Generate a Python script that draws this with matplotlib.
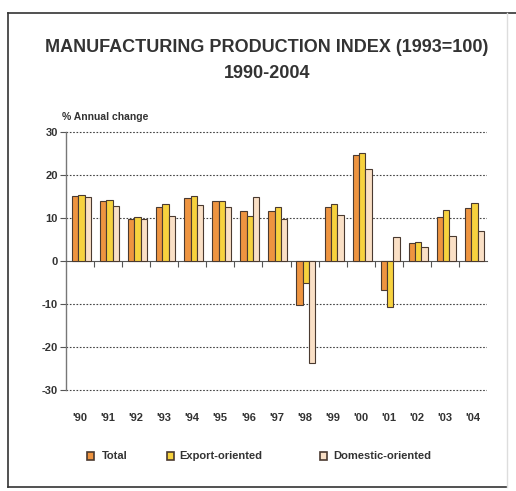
import numpy as np
import matplotlib.pyplot as plt
from matplotlib.patches import Rectangle
from matplotlib.lines import Line2D

plt.rcParams['font.family'] = ['Liberation Sans', 'DejaVu Sans']
plt.rcParams['axes.unicode_minus'] = False

# данные (чтение с картинки)
years = ["'90", "'91", "'92", "'93", "'94", "'95", "'96", "'97",
         "'98", "'99", "'00", "'01", "'02", "'03", "'04"]
total = [15.2, 14.0, 9.9, 12.6, 14.6, 13.9, 11.7, 11.6,
         -10.2, 12.6, 24.8, -6.7, 4.2, 10.2, 12.4]
export = [15.5, 14.2, 10.3, 13.4, 15.2, 13.9, 10.5, 12.5,
          -5.1, 13.2, 25.3, -10.8, 4.4, 11.8, 13.6]
domestic = [14.9, 12.9, 9.8, 10.4, 13.0, 12.6, 15.0, 9.8,
            -23.8, 10.8, 21.5, 5.5, 3.2, 5.8, 6.9]
series_names = ['Total', 'Export-oriented', 'Domestic-oriented']
colors = ['#EE9440', '#F7D23E', '#FAE0C6']
edge = '#4a3a30'
txt = '#333333'

W, H = 516, 491
fig = plt.figure(figsize=(W / 100, H / 100), dpi=100)
ax = fig.add_axes([66 / W, 1 - 394 / H, (487 - 66) / W, (394 - 126) / H])

x = np.arange(len(years))
bw = 0.225
for i, vals in enumerate([total, export, domestic]):
    ax.bar(x + (i - 1) * bw + 0.05, vals, width=bw, color=colors[i],
           edgecolor=edge, linewidth=0.8, zorder=3)

ax.set_xlim(-0.5, len(years) - 0.5)
ax.set_ylim(-31, 31.5)

# пунктирная сетка
for yv in [30, 20, 10, -10, -20, -30]:
    ax.axhline(yv, color='#444444', lw=0.8, ls=(0, (1.5, 1.5)), zorder=1)

for s in ['top', 'right']:
    ax.spines[s].set_visible(False)
ax.spines['bottom'].set_position(('data', 0))
ax.spines['bottom'].set_color('#555555')
ax.spines['left'].set_color('#777777')
ax.spines['left'].set_linewidth(1.0)
ax.spines['left'].set_bounds(-30, 30)

ax.set_yticks([30, 20, 10, 0, -10, -20, -30])
ax.tick_params(axis='y', length=4, width=0.8, color='#555555',
               labelsize=8, labelcolor=txt, pad=2)
for lab in ax.get_yticklabels():
    lab.set_fontweight('bold')

ax.set_xticks(np.arange(0.5, len(years) - 0.5, 1.0))
ax.set_xticklabels([])
ax.tick_params(axis='x', length=4, width=0.8, color='#555555', direction='out')

for xi, yr in zip(x, years):
    ax.text(xi, -36.5, yr, ha='center', va='center', fontsize=8,
            color=txt, fontweight='bold')

# заголовок
fig.text(267 / W, 1 - 47 / H, 'MANUFACTURING PRODUCTION INDEX (1993=100)',
         ha='center', va='center', fontsize=13, color=txt, fontweight='bold')
fig.text(267 / W, 1 - 73 / H, '1990-2004', ha='center', va='center',
         fontsize=13, color=txt, fontweight='bold')
fig.text(62 / W, 1 - 117 / H, '% Annual change', ha='left', va='center',
         fontsize=7.5, color=txt, fontweight='bold')

# легенда вручную
leg_pos = [(87, 102), (167, 179), (320, 333)]
for (sx, tx), name, c in zip(leg_pos, series_names, colors):
    fig.add_artist(Rectangle((sx / W, 1 - 460 / H), 7 / W, 8 / H,
                             transform=fig.transFigure, facecolor=c,
                             edgecolor=edge, linewidth=1.2))
    fig.text(tx / W, 1 - 456 / H, name, ha='left', va='center',
             fontsize=8, color=txt, fontweight='bold')

# рамка вокруг рисунка
fig.add_artist(Line2D([8 / W, 8 / W], [1 - 13 / H, 1 - 487 / H],
                      transform=fig.transFigure, color='#333333', lw=1.2))
fig.add_artist(Line2D([8 / W, 1.0], [1 - 13 / H, 1 - 13 / H],
                      transform=fig.transFigure, color='#333333', lw=1.2))
fig.add_artist(Line2D([8 / W, 507 / W], [1 - 487 / H, 1 - 487 / H],
                      transform=fig.transFigure, color='#333333', lw=1.2))
fig.add_artist(Line2D([507 / W, 507 / W], [1 - 13 / H, 1 - 487 / H],
                      transform=fig.transFigure, color='#dddddd', lw=1.0))

fig.savefig('out.png', dpi=100)
